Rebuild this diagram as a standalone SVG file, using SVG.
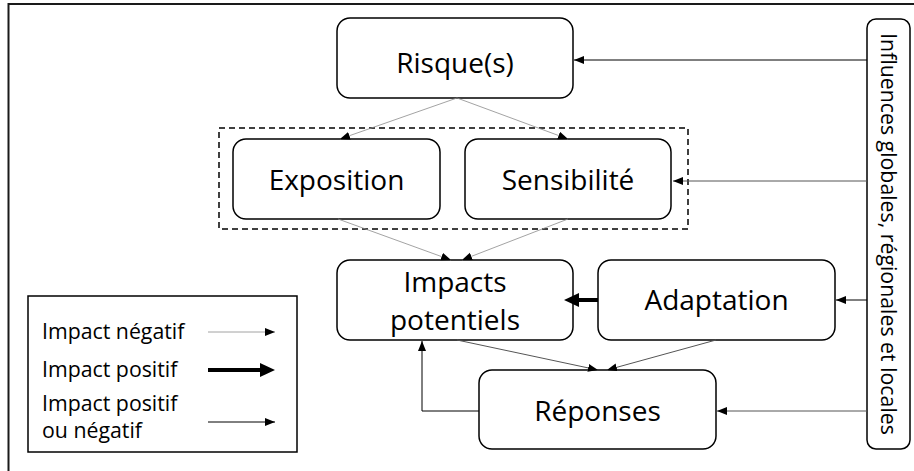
<svg xmlns="http://www.w3.org/2000/svg" width="914" height="471" viewBox="0 0 914 471">
  <defs>
    <style>
      .frame { fill: none; stroke: #1a1a1a; stroke-width: 2; }
      .box { fill: #ffffff; stroke: #000000; stroke-width: 1.5; }
      .group { fill: none; stroke: #000000; stroke-width: 1.5; stroke-dasharray: 6 4; }
      .label { font-family: "Open Sans", "Noto Sans", sans-serif; font-size: 28px; fill: #000000; text-anchor: middle; }
      .small { font-family: "Open Sans", "Noto Sans", sans-serif; font-size: 21.3px; fill: #000000; }
      .neg { fill: none; stroke: #8c8c8c; stroke-width: 0.8; marker-end: url(#headThin); }
      .mix { fill: none; stroke: #000000; stroke-width: 1; marker-end: url(#headThin); }
      .mixGrey { fill: none; stroke: #555555; stroke-width: 1; marker-end: url(#headThin); }
      .pos { fill: none; stroke: #000000; stroke-width: 4; marker-end: url(#headThick); }
    </style>
    <marker id="headThin" markerUnits="userSpaceOnUse" markerWidth="12" markerHeight="10" refX="10" refY="4" orient="auto">
      <path d="M0,0 L10,4 L0,8 Z" fill="#000000"/>
    </marker>
    <marker id="headThick" markerUnits="userSpaceOnUse" markerWidth="16" markerHeight="15" refX="1" refY="7" orient="auto">
      <path d="M0,0 L15,7 L0,14 Z" fill="#000000"/>
    </marker>
  </defs>

  <!-- outer frame -->
  <rect class="frame" x="8.5" y="4" width="940" height="500"/>

  <!-- dashed grouping of exposure and sensitivity -->
  <rect class="group" x="219" y="128" width="469" height="101"/>

  <g id="risque">
    <rect class="box" x="337" y="18" width="236" height="80" rx="13"/>
    <text class="label" x="455" y="73">Risque(s)</text>
  </g>

  <g id="exposition">
    <rect class="box" x="233" y="139" width="207" height="80" rx="13"/>
    <text class="label" x="336.5" y="190">Exposition</text>
  </g>

  <g id="sensibilite">
    <rect class="box" x="465" y="139" width="206" height="80" rx="13"/>
    <text class="label" x="568" y="190">Sensibilité</text>
  </g>

  <g id="impacts">
    <rect class="box" x="337" y="260" width="236" height="80" rx="13"/>
    <text class="label" x="455" y="292">Impacts</text>
    <text class="label" x="455" y="330">potentiels</text>
  </g>

  <g id="adaptation">
    <rect class="box" x="598" y="260" width="237" height="80" rx="13"/>
    <text class="label" x="716.5" y="310">Adaptation</text>
  </g>

  <g id="reponses">
    <rect class="box" x="479" y="370" width="237" height="79" rx="13"/>
    <text class="label" x="597.5" y="421">Réponses</text>
  </g>

  <g id="influences">
    <rect class="box" x="867" y="19" width="43" height="430" rx="9"/>
    <text class="small" text-anchor="middle" transform="translate(881,234) rotate(90)">Influences globales, régionales et locales</text>
  </g>

  <g id="legende">
    <rect class="box" x="28" y="296" width="269" height="156" stroke-width="1.3"/>
    <text class="small" x="42" y="339">Impact négatif</text>
    <text class="small" x="42" y="377">Impact positif</text>
    <text class="small" x="42" y="411">Impact positif</text>
    <text class="small" x="42" y="438">ou négatif</text>
    <line class="neg" x1="208" y1="332" x2="275" y2="332"/>
    <line class="pos" x1="208" y1="370" x2="261" y2="370"/>
    <line class="mix" x1="208" y1="422" x2="275" y2="422"/>
  </g>

  <g id="connecteurs">
    <line class="mix" x1="867" y1="60" x2="574" y2="60"/>
    <line class="mixGrey" x1="867" y1="181" x2="673" y2="181"/>
    <line class="mix" x1="867" y1="300" x2="836" y2="300"/>
    <line class="mixGrey" x1="867" y1="411" x2="717" y2="411"/>
    <line class="neg" x1="457" y1="98" x2="340" y2="139"/>
    <line class="neg" x1="457" y1="98" x2="568" y2="139"/>
    <line class="neg" x1="338" y1="219" x2="451" y2="260"/>
    <line class="neg" x1="568" y1="219" x2="462" y2="260"/>
    <line class="pos" x1="598" y1="300" x2="578" y2="300"/>
    <line class="mixGrey" x1="457" y1="340" x2="598" y2="370"/>
    <line class="mixGrey" x1="716" y1="340" x2="607" y2="370"/>
    <polyline class="mix" points="479,411 422,411 422,341"/>
  </g>
</svg>
